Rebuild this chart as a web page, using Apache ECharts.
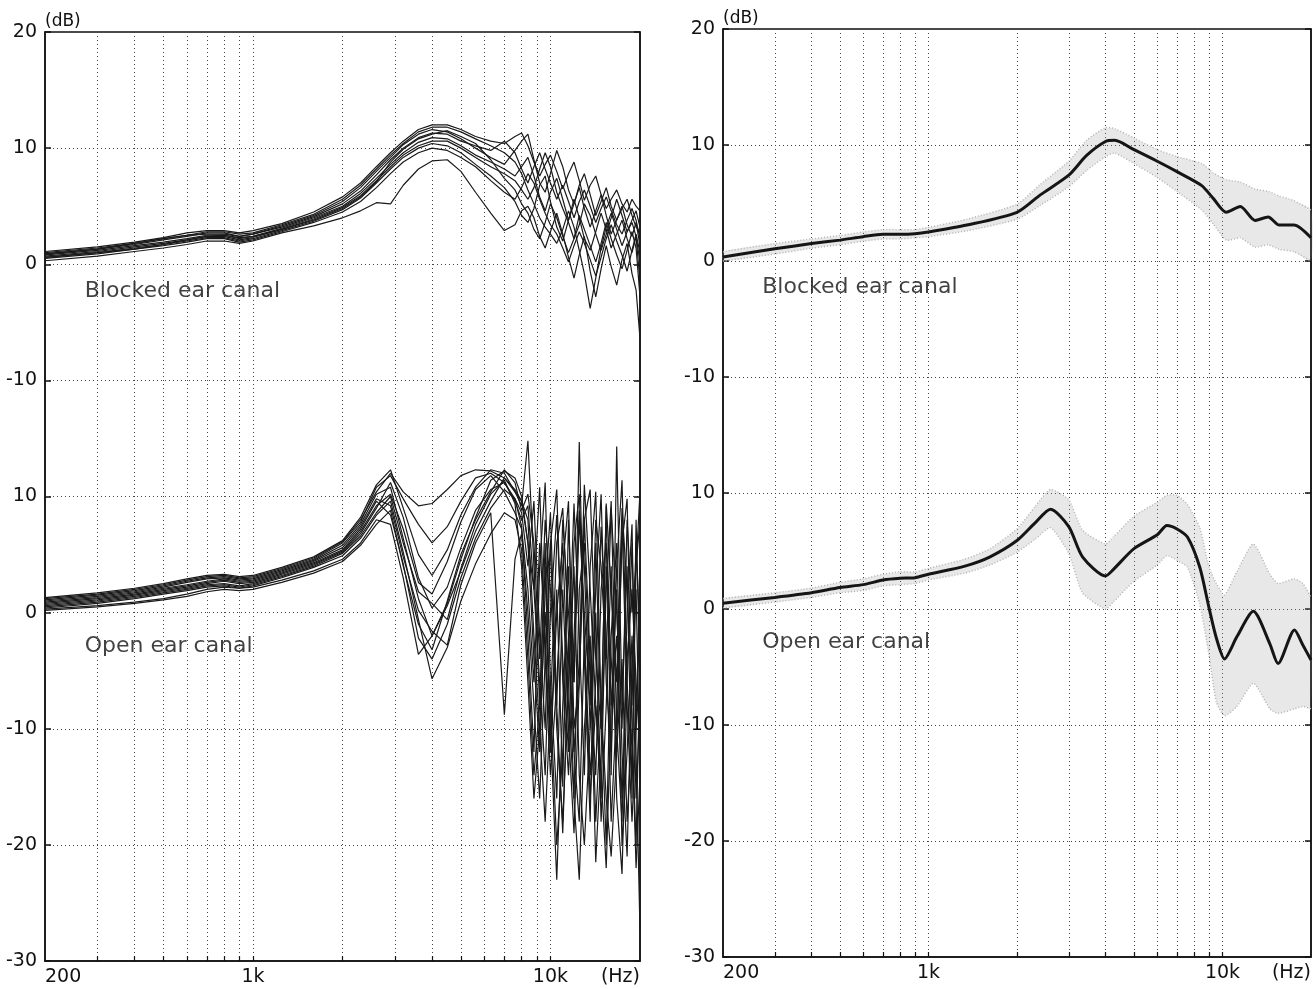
<!DOCTYPE html>
<html>
<head>
<meta charset="utf-8">
<title>Blocked / open ear canal</title>
<script src="https://cdn.jsdelivr.net/npm/echarts@6.0.0/dist/echarts.min.js"></script>
<style>
    html, body { margin: 0; padding: 0; background: #fff; }
    #box { width: 1316px; height: 989px; }
</style>
</head>
<body>
<div id="box"></div>
<script>
// frequency grid (Hz) shared by the individual curves of the left panel
var freqs = [200, 300, 400, 500, 600, 700, 800, 900, 1000, 1250, 1600, 2000,
    2300, 2600, 2900, 3200, 3600, 4000, 4500, 5000, 5600, 6300, 7000, 7600,
    8000, 8400, 8800, 9200, 9600, 10000, 10500, 11000, 11500, 12000, 12500,
    13000, 13600, 14200, 14800, 15400, 16000, 16700, 17400, 18100, 18800, 19400, 20000];

// individual subjects, blocked ear canal (dB)
var blockedCurves = [
    [1.1,1.5,1.9,2.3,2.7,2.9,2.9,2.7,2.9, 3.5,4.5,5.8, 7.0,8.4,9.6,10.6,11.6, 12.0,12.0,11.6,11.0,10.6,10.4,11.0, 11.3,10.2,8.8,7.6,8.6,9.4, 8.0,6.5,7.8,8.8,7.2, 5.5,6.8,7.6,6.0,4.8, 5.6,6.4,5.2,4.5,5.6,5.0,4.6],
    [0.9,1.3,1.7,2.1,2.4,2.7,2.7,2.4,2.6, 3.3,4.2,5.4, 6.6,8.0,9.2,10.3,11.2, 11.6,11.4,10.8,10.0,9.2,8.6,9.8, 10.6,11.2,9.0,7.0,6.2,7.8, 9.8,8.4,6.4,5.2,6.8, 7.8,6.0,4.2,5.4,6.6, 5.0,3.8,4.8,5.6,4.2,3.2,2.8],
    [0.8,1.2,1.6,1.9,2.2,2.5,2.5,2.2,2.4, 3.1,4.0,5.0, 6.1,7.4,8.6,9.6,10.5, 10.9,10.8,10.2,9.4,8.8,8.2,7.6, 8.4,9.2,7.6,5.8,4.6,6.2, 7.4,5.6,3.8,5.2,6.6, 4.8,3.2,4.6,6.0,4.2, 2.6,3.8,5.0,3.4,2.4,3.6,1.6],
    [0.6,1.0,1.4,1.7,2.0,2.3,2.3,2.0,2.2, 2.9,3.7,4.7, 5.7,7.0,8.2,9.2,10.0, 10.4,10.2,9.6,8.6,7.6,6.6,5.4, 4.2,3.6,4.8,6.8,7.6,5.4, 3.2,2.0,3.8,5.6,4.0, 2.2,1.2,2.8,4.4,3.0, 1.4,2.6,3.8,2.2,1.0,2.4,0.2],
    [0.3,0.7,1.1,1.4,1.7,2.0,2.0,1.8,2.0, 2.7,3.3,4.0, 4.6,5.3,5.2,6.8,8.2, 8.9,9.0,8.0,6.2,4.4,2.9,3.4, 4.6,5.0,4.0,2.4,1.4,2.8, 4.4,2.6,0.6,-1.2,0.8, 2.4,-0.6,-2.8,-0.4,1.6, -0.2,-1.8,0.4,1.8,-0.8,-2.2,-6.4],
    [1.0,1.4,1.8,2.2,2.5,2.8,2.8,2.6,2.7, 3.4,4.3,5.6, 6.8,8.2,9.4,10.4,11.4, 11.8,11.8,11.4,10.8,10.2,9.6,8.8, 7.8,6.4,5.2,4.0,3.2,2.6, 1.8,3.0,4.6,3.2,1.2, -0.8,-3.8,-1.2,1.4,3.2, 4.4,3.0,1.6,2.8,3.6,2.4,-1.5],
    [0.7,1.1,1.5,1.8,2.1,2.4,2.4,2.1,2.3, 3.0,3.9,4.9, 5.9,7.2,8.4,9.4,10.2, 10.6,10.6,10.0,9.2,8.4,7.8,7.2, 6.4,5.6,6.6,8.2,9.6,8.4, 6.2,4.8,3.6,2.2,3.4, 5.2,4.2,2.6,1.2,2.6, 4.0,5.6,4.2,2.8,3.8,4.6,3.2],
    [0.5,0.9,1.3,1.6,1.9,2.2,2.2,1.9,2.1, 2.8,3.6,4.5, 5.4,6.6,7.8,8.8,9.6, 10.0,9.8,9.2,8.4,7.2,6.2,5.6, 6.6,7.8,7.0,5.6,4.4,3.4, 2.6,1.4,0.2,1.6,2.8, 1.8,0.4,-1.0,0.6,2.2, 3.4,2.0,0.8,-0.6,1.2,2.6,1.0],
    [0.9,1.3,1.8,2.2,2.5,2.6,2.6,2.4,2.6, 3.2,4.1,5.2, 6.3,7.7,9.0,10.0,10.9, 11.3,11.2,10.6,10.2,9.8,10.6,9.6, 8.2,7.0,8.4,9.6,8.2,7.0, 5.6,6.8,5.4,4.0,5.4, 6.4,5.0,3.6,4.8,5.8, 4.6,3.4,2.6,3.8,4.8,3.8,2.2],
    [0.6,1.0,1.3,1.7,2.1,2.4,2.5,2.3,2.4, 3.0,3.8,4.8, 5.8,7.1,8.8,9.9,10.8, 11.2,11.5,11.0,10.4,9.0,7.4,6.4, 5.2,4.4,3.0,2.2,3.6,5.2, 4.0,2.4,1.0,2.2,4.2, 3.0,1.6,0.2,1.8,3.6, 2.2,0.8,-0.4,1.2,2.8,1.4,-2.8]
];

// individual subjects, open ear canal (dB)
var openCurves = [
    [1.3,1.7,2.1,2.5,2.9,3.2,3.3,3.1,3.2, 3.9,4.8,6.2, 8.2,11.0,12.3,9.0,5.0, 3.2,5.4,8.4,10.8,12.3,12.0,10.4, 9.2, 14.8,4.0,-8.0,6.0,-12.0, 2.0,-15.0,8.0,-6.0,14.7, -4.0,-18.0,6.0,-10.0,9.2, -14.0,14.3,-8.0,4.0,-16.0, 8.0,-6.0],
    [1.0,1.4,1.8,2.2,2.6,2.9,3.0,2.8,2.9, 3.6,4.5,5.8, 7.6,10.2,10.8,6.4,1.2, -2.0,0.8,4.6,8.2,11.4,12.2,11.6, 10.0, 6.0,-4.0,-12.0,2.0,8.6, -8.0,-19.0,-4.0,9.4,-2.0, -14.0,4.0,10.4,-8.0,-20.0, -2.0,6.0,-12.0,-21.0,-4.0, 2.0,-14.0],
    [0.8,1.2,1.6,2.0,2.3,2.6,2.8,2.6,2.7, 3.4,4.3,5.4, 7.2,9.6,8.4,4.2,-2.2, -4.0,-1.0,3.0,6.4,9.0,10.6,9.8, 7.4, -2.0,-12.0,4.0,11.2,-6.0, -16.0,2.0,-10.0,-19.0,-6.0, 8.0,-4.0,-21.5,-12.0,2.0, 9.6,-10.0,-18.0,0.0,7.6, -12.0,-27.5],
    [0.6,1.0,1.4,1.8,2.1,2.4,2.5,2.3,2.5, 3.2,4.1,5.2, 6.8,9.0,11.2,8.2,3.0, 0.4,2.2,5.6,8.8,10.6,11.2,9.6, 8.0, 9.2,2.0,-6.0,-14.0,0.0, 8.4,-4.0,-12.0,6.0,10.2, -2.0,-14.0,-6.0,7.4,-2.0, -18.0,-8.0,6.0,9.8,-10.0, -20.0,-4.0],
    [0.4,0.8,1.2,1.6,1.9,2.2,2.3,2.1,2.3, 3.0,3.9,4.9, 6.4,8.4,9.6,5.2,-0.6, -5.7,-3.0,1.0,4.2,6.8,8.6,8.0, 5.4, -4.0,-14.0,-8.0,4.0,-10.0, -23.0,-8.0,4.0,-12.0,-18.0, -2.0,-16.0,-8.0,-14.0,-22.0, -8.0,2.0,-20.0,-12.0,-2.0, -16.0,-8.0],
    [1.1,1.5,1.9,2.3,2.7,3.0,3.1,2.9,3.0, 3.7,4.6,6.0, 7.8,10.8,11.8,9.8,7.6, 6.0,7.4,9.6,11.6,12.0,11.2,9.8, 8.6, 4.0,9.6,-2.0,-10.0,6.0, 10.6,-6.0,-14.0,-2.0,8.8, 4.0,-10.0,2.0,10.2,-6.0, -12.0,4.0,11.4,-6.0,-14.0, 4.0,10.4],
    [0.9,1.3,1.7,2.1,2.4,2.7,2.9,2.7,2.8, 3.5,4.4,5.6, 7.4,9.8,9.2,4.8,0.2, -1.6,-2.8,2.4,6.0,8.6,-8.8,4.6, 6.8, 0.0,-8.0,-16.0,-4.0,6.0, -10.0,-18.0,-6.0,4.0,-14.0, -20.0,-10.0,0.0,-18.0,-8.0, 4.0,-16.0,-22.5,-6.0,6.0, -10.0,0.0],
    [0.7,1.1,1.5,1.9,2.2,2.5,2.7,2.5,2.6, 3.3,4.2,5.3, 7.0,9.2,10.2,7.2,2.6, 1.6,4.4,7.8,10.6,11.8,10.4,8.6, 7.2, 2.0,-6.0,6.0,-2.0,-12.0, 0.0,6.0,-8.0,-16.0,2.0, 6.0,-6.0,-14.0,2.0,6.0, -8.0,-2.0,-16.0,-4.0,2.0, -6.0,-12.0],
    [0.3,0.6,0.9,1.2,1.6,2.0,2.2,2.1,2.2, 2.8,3.6,4.6, 6.0,8.0,7.6,3.0,-3.6, -2.0,0.6,3.6,7.0,9.6,11.6,10.6, 9.6, 8.0,-2.0,-10.0,-18.0,-8.0, 6.0,9.0,-2.0,-12.0,-4.0, 11.0,2.0,-8.0,-16.0,4.0, -4.0,-12.0,8.0,-8.0,-18.0, -10.0,4.0],
    [1.2,1.6,2.0,2.4,2.8,3.1,3.2,3.0,3.1, 3.8,4.7,6.1, 8.0,10.4,12.0,10.4,9.2, 9.4,10.6,11.8,12.3,12.2,11.6,10.4, 9.6, 6.0,2.0,10.8,-4.0,-14.0, -6.0,4.0,9.6,-10.0,-6.0, 8.0,10.6,-4.0,-10.0,9.4, 2.0,-6.0,9.0,2.0,-8.0, 6.0,-2.0],
    [0.5,0.9,1.3,1.7,2.0,2.3,2.4,2.2,2.4, 3.1,4.0,5.1, 6.6,8.6,10.0,6.0,1.8, 0.8,-0.6,3.8,7.6,10.2,11.4,9.4, 4.0, -6.0,-16.0,-10.0,0.0,-8.0, -20.0,-12.0,-2.0,-16.0,-23.0, -10.0,-2.0,-18.0,-8.0,-16.0, -21.0,-12.0,-4.0,-18.0,-10.0, -22.0,-14.0],
    [0.2,0.5,0.8,1.1,1.4,1.8,2.0,1.9,2.0, 2.6,3.4,4.4, 5.8,7.6,8.8,4.0,-1.0, -3.2,1.0,5.0,8.0,10.4,12.3,11.2, 8.8, 10.2,6.0,-4.0,8.0,2.0, -8.0,8.0,0.0,-6.0,8.0, 0.0,-8.0,8.0,4.0,-4.0, 9.0,0.0,-10.0,8.0,0.0, 4.0,8.0]
];

// right panel: mean and spread, blocked ear canal
var blockedFreqs = [200, 300, 400, 500, 600, 700, 800, 900, 1000, 1350, 2000, 2400, 3000, 3450,
    4000, 4300, 5000, 6000, 7000, 8500, 9300, 10300, 11500, 12900, 14300, 15600, 17500, 20000];
var blockedMean  = [0.35, 1.05, 1.5, 1.8, 2.1, 2.3, 2.3, 2.35, 2.5, 3.1, 4.2, 5.7, 7.4, 9.1,
    10.3, 10.4, 9.6, 8.6, 7.7, 6.5, 5.4, 4.2, 4.7, 3.5, 3.8, 3.1, 3.1, 2.0];
var blockedUpper = [0.8, 1.5, 1.9, 2.2, 2.5, 2.7, 2.7, 2.7, 2.9, 3.6, 4.9, 6.6, 8.6, 10.4,
    11.5, 11.4, 10.6, 9.6, 9.0, 8.4, 7.6, 7.0, 6.8, 6.2, 6.0, 5.6, 5.2, 4.4];
var blockedLower = [0.0, 0.6, 1.1, 1.4, 1.7, 1.9, 1.9, 2.0, 2.1, 2.6, 3.6, 4.8, 6.4, 7.8,
    9.0, 9.3, 8.4, 7.2, 6.0, 4.4, 3.2, 1.8, 2.0, 1.2, 1.4, 1.0, 0.8, 0.0];

// right panel: mean and spread, open ear canal
var openFreqs = [200, 300, 400, 500, 600, 700, 800, 900, 1000, 1330, 1620, 2000, 2300, 2600, 3000, 3340,
    4000, 4250, 5000, 6000, 6470, 7000, 7600, 8370, 9000, 9530, 10160, 11190, 12730, 14490, 15450,
    17580, 18760, 20000];
var openMean  = [0.5, 1.0, 1.4, 1.85, 2.1, 2.5, 2.65, 2.7, 3.0, 3.7, 4.5, 5.9, 7.4, 8.6, 7.1, 4.5,
    2.85, 3.4, 5.2, 6.4, 7.2, 6.9, 6.2, 3.6, 0.1, -2.5, -4.3, -2.4, -0.2, -3.0, -4.7,
    -1.8, -3.1, -4.4];
var openUpper = [0.9, 1.4, 1.8, 2.3, 2.6, 3.0, 3.2, 3.2, 3.5, 4.3, 5.2, 6.9, 8.8, 10.3, 9.4, 6.8,
    5.6, 6.2, 8.0, 9.2, 9.8, 9.8, 9.0, 7.0, 3.6, 2.2, 1.2, 3.2, 5.6, 3.0, 2.2,
    2.6, 2.2, 1.0];
var openLower = [0.1, 0.6, 1.0, 1.4, 1.6, 2.0, 2.1, 2.2, 2.5, 3.1, 3.8, 4.9, 6.0, 7.0, 4.8, 1.4,
    0.0, 0.6, 2.4, 3.8, 4.6, 4.2, 3.6, 0.4, -4.0, -8.0, -9.2, -8.4, -6.4, -8.6, -9.0,
    -8.6, -8.4, -8.6];

// axis ticks and labels
var gridFreqs = [300, 400, 500, 600, 700, 800, 900, 1000, 2000, 3000, 4000, 5000, 6000, 7000, 8000, 9000, 10000];
var xLabelFreqs = [200, 1000, 10000, 20000];
var xLabelTexts = ['200', '1k', '10k', '(Hz)'];
var panelTitles = ['Blocked ear canal', 'Open ear canal'];

// the blocked curves sit 30 dB higher on the shared axis
var BLOCKED_SHIFT = 30;

window.onload = function () {

    var myChart = echarts.init(document.getElementById('box'));
    var font = 'DejaVu Sans';
    var ink = '#111';

    function pairs(fs, vs, shift) {
        return fs.map(function (f, i) { return [f, vs[i] + shift]; });
    }

    function xAxisFor(gi) {
        return {
            type: 'log',
            logBase: 10,
            gridIndex: gi,
            min: 200,
            max: 20000,
            axisLine: { show: true, onZero: false, lineStyle: { color: ink, width: 1.5 } },
            axisTick: { show: true, inside: true, length: 5, customValues: gridFreqs, lineStyle: { color: ink, width: 1.2 } },
            splitLine: { show: true, lineStyle: { color: '#444', width: 1, type: [1, 3] } },
            minorTick: { show: false },
            axisLabel: {
                customValues: xLabelFreqs,
                alignMinLabel: 'left',
                alignMaxLabel: 'right',
                fontFamily: font,
                fontSize: 19,
                color: ink,
                margin: 7,
                formatter: function (v) {
                    for (var i = 0; i < xLabelFreqs.length; i++) {
                        if (Math.abs(Math.log10(xLabelFreqs[i]) - Math.log10(v)) < 0.01) return xLabelTexts[i];
                    }
                    return '';
                }
            }
        };
    }

    function yAxesFor(gi) {
        return [{
            type: 'value',
            gridIndex: gi,
            min: -30,
            max: 50,
            interval: 10,
            name: '(dB)',
            nameLocation: 'end',
            nameGap: 2,
            nameTextStyle: { align: 'left', fontFamily: font, fontSize: 17, color: ink },
            axisLine: { show: true, onZero: false, lineStyle: { color: ink, width: 1.5 } },
            axisTick: { show: true, inside: true, length: 6, lineStyle: { color: ink, width: 1.5 } },
            splitLine: { show: true, lineStyle: { color: '#444', width: 1, type: [1, 3] } },
            axisLabel: {
                fontFamily: font,
                fontSize: 19,
                color: ink,
                margin: 8,
                formatter: function (v) { return v >= 20 ? String(v - BLOCKED_SHIFT) : String(v); }
            }
        }, {
            type: 'value',
            gridIndex: gi,
            position: 'right',
            min: -30,
            max: 50,
            interval: 10,
            axisLine: { show: true, onZero: false, lineStyle: { color: ink, width: 1.5 } },
            axisTick: { show: true, inside: true, length: 6, lineStyle: { color: ink, width: 1.5 } },
            axisLabel: { show: false },
            splitLine: { show: false }
        }];
    }

    var series = [];

    // left panel, every subject
    blockedCurves.concat(openCurves).forEach(function (c, k) {
        var shift = k < blockedCurves.length ? BLOCKED_SHIFT : 0;
        series.push({
            type: 'line',
            xAxisIndex: 0,
            yAxisIndex: 0,
            data: pairs(freqs, c, shift),
            symbol: 'none',
            silent: true,
            lineStyle: { color: '#1a1a1a', width: 1.2 },
            z: 3
        });
    });

    // right panel, grey spread band (polygon through the axis scales) + thick mean
    [
        { f: blockedFreqs, m: blockedMean, u: blockedUpper, l: blockedLower, s: BLOCKED_SHIFT },
        { f: openFreqs, m: openMean, u: openUpper, l: openLower, s: 0 }
    ].forEach(function (g) {
        series.push({
            type: 'custom',
            xAxisIndex: 1,
            yAxisIndex: 2,
            silent: true,
            data: [[g.f[0], g.m[0] + g.s]],
            renderItem: function (params, api) {
                var top = [], bottom = [];
                for (var i = 0; i < g.f.length; i++) {
                    top.push(api.coord([g.f[i], g.u[i] + g.s]));
                    bottom.push(api.coord([g.f[i], g.l[i] + g.s]));
                }
                var ring = top.concat(bottom.slice().reverse());
                return {
                    type: 'group',
                    children: [{
                        type: 'polygon',
                        shape: { points: ring, smooth: 0.2 },
                        style: { fill: 'rgba(150,150,150,0.22)', stroke: null }
                    }, {
                        type: 'polyline',
                        shape: { points: top, smooth: 0.2 },
                        style: { fill: null, stroke: '#b5b5b5', lineWidth: 1.5, lineDash: [1, 2] }
                    }, {
                        type: 'polyline',
                        shape: { points: bottom, smooth: 0.2 },
                        style: { fill: null, stroke: '#b5b5b5', lineWidth: 1.5, lineDash: [1, 2] }
                    }]
                };
            },
            z: 2
        });
        series.push({
            type: 'line', xAxisIndex: 1, yAxisIndex: 2, silent: true,
            data: pairs(g.f, g.m, g.s), symbol: 'none', z: 4, smooth: 0.25,
            lineStyle: { color: '#151515', width: 3 }
        });
    });

    // panel captions anchored in data space
    [0, 1].forEach(function (gi) {
        series.push({
            type: 'scatter', xAxisIndex: gi, yAxisIndex: gi * 2, silent: true,
            symbolSize: 0,
            data: [
                { value: [272, 27.7], name: panelTitles[0] },
                { value: [272, -2.9], name: panelTitles[1] }
            ],
            label: {
                show: true, position: 'right', distance: 0, formatter: '{b}',
                fontFamily: font, fontSize: 22, color: ink
            },
            z: 5
        });
    });

    var option = {
        animation: false,
        backgroundColor: '#fff',
        grid: [
            { left: 45, top: 32, width: 595, height: 929, show: true, borderColor: ink, borderWidth: 1.5 },
            { left: 723, top: 29, width: 588, height: 928, show: true, borderColor: ink, borderWidth: 1.5 }
        ],
        xAxis: [xAxisFor(0), xAxisFor(1)],
        yAxis: yAxesFor(0).concat(yAxesFor(1)),
        series: series
    };
    myChart.setOption(option);
    window.addEventListener('resize', function () {
        myChart.resize();
    });
};
</script>
</body>
</html>
